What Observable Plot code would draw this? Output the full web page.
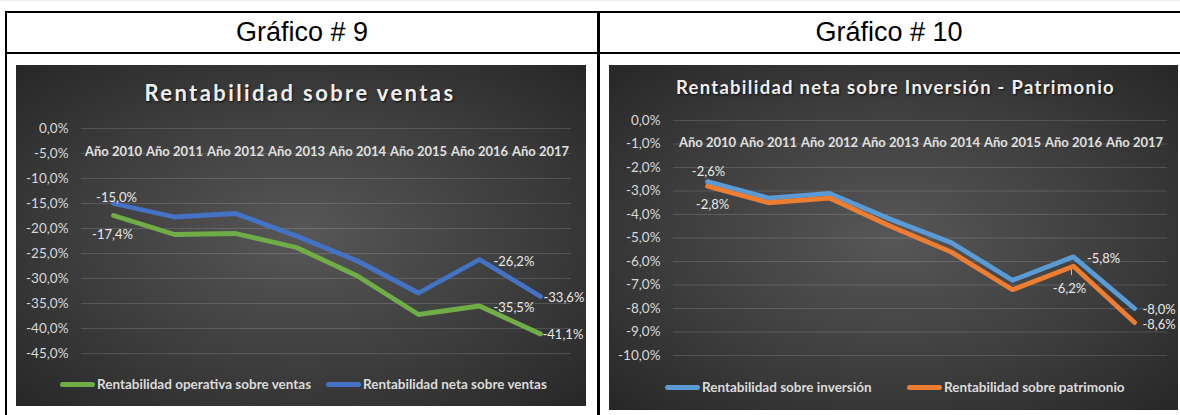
<!DOCTYPE html>
<html lang="es">
<head>
<meta charset="utf-8">
<script src="https://cdn.jsdelivr.net/npm/d3@7"></script>
<script src="https://cdn.jsdelivr.net/npm/@observablehq/plot@0.6"></script>
<style>
  html, body { margin:0; padding:0; background:#fff; }
  body { width:1180px; height:415px; position:relative; overflow:hidden; font-family: Lato, "Open Sans", sans-serif; }
  .ln { position:absolute; background:#000; }
  .hdr { position:absolute; top:13px; height:39px; display:flex; align-items:center; justify-content:center; font-family:"Liberation Sans", Arial, sans-serif; font-size:27px; color:#000; }
  .panel { position:absolute; overflow:hidden; background: radial-gradient(ellipse 72% 72% at 50% 50%, #575757 0%, #3d3d3d 55%, #262626 100%); }
  .panel svg { position:absolute; left:0; top:0; }
  .title { position:absolute; white-space:nowrap; font-weight:700; color:#efefef; text-shadow: 1px 1px 2px rgba(0,0,0,0.75); }
  .leg { position:absolute; display:flex; align-items:center; white-space:nowrap; font-weight:700; font-size:13.5px; color:#dcdcdc; transform: translateY(-50%); }
  .sw { display:inline-block; width:35px; height:5px; border-radius:2.5px; margin-right:2px; }
</style>
</head>
<body>
<div class="ln" style="left:0;top:0;width:1180px;height:1px;background:#ececec"></div>
<div class="ln" style="left:5px;top:11px;width:1175px;height:2px"></div>
<div class="ln" style="left:5px;top:52px;width:1175px;height:2px"></div>
<div class="ln" style="left:5px;top:11px;width:2px;height:404px"></div>
<div class="ln" style="left:597px;top:11px;width:3px;height:404px"></div>
<div class="hdr" id="h1" style="left:7px;width:590px"></div>
<div class="hdr" id="h2" style="left:600px;width:578px"></div>

<div class="panel" id="p1" style="left:16px;top:65px;width:570px;height:341px"></div>
<div class="panel" id="p2" style="left:609px;top:65px;width:569px;height:345px"></div>

<script>
// ---------- data ----------
const headers = ["Gráfico # 9", "Gráfico # 10"];
const titles = ["Rentabilidad sobre ventas", "Rentabilidad neta sobre Inversión - Patrimonio"];
const years = ["Año 2010", "Año 2011", "Año 2012", "Año 2013", "Año 2014", "Año 2015", "Año 2016", "Año 2017"];

const seriesNames1 = ["Rentabilidad operativa sobre ventas", "Rentabilidad neta sobre ventas"];
const operativaVentas = [-17.4, -21.2, -21.0, -23.8, -29.5, -37.2, -35.5, -41.1];
const netaVentas      = [-15.0, -17.7, -17.0, -21.5, -26.5, -32.9, -26.2, -33.6];
const ticks1 = [0, -5, -10, -15, -20, -25, -30, -35, -40, -45];

const seriesNames2 = ["Rentabilidad sobre inversión", "Rentabilidad sobre patrimonio"];
const inversion  = [-2.6, -3.3, -3.1, -4.2, -5.2, -6.8, -5.8, -8.0];
const patrimonio = [-2.8, -3.5, -3.3, -4.5, -5.6, -7.2, -6.2, -8.6];
const ticks2 = [0, -1, -2, -3, -4, -5, -6, -7, -8, -9, -10];

const colors1 = ["#70AD47", "#4472C4"];
const colors2 = ["#5B9BD5", "#ED7D31"];

// ---------- helpers ----------
const fmt = v => v.toFixed(1).replace(".", ",") + "%";
const rows = (vals, name) => vals.map((v, i) => ({year: years[i], v, name}));

document.getElementById("h1").textContent = headers[0];
document.getElementById("h2").textContent = headers[1];

function build(panelId, cfg) {
  const panel = document.getElementById(panelId);
  const data = cfg.series.map((vals, k) => rows(vals, cfg.names[k]));
  const labelMarks = cfg.labels.map(l => {
    const d = data[l.s][l.i];
    return Plot.text([d], {x: "year", y: "v", text: d => fmt(d.v), dx: l.dx, dy: l.dy,
      textAnchor: l.anchor, fill: "#e8e8e8", fontSize: 13});
  });
  const chart = Plot.plot({
    width: cfg.width, height: cfg.height,
    marginLeft: cfg.ml, marginRight: cfg.mr, marginTop: cfg.mt, marginBottom: cfg.mb,
    x: {type: "point", domain: years, padding: 0.5, align: 0.5, axis: null},
    y: {domain: cfg.domain},
    style: {background: "transparent", color: "#d9d9d9", fontFamily: "Lato, 'Open Sans', sans-serif", fontSize: "13px", overflow: "visible"},
    marks: [
      Plot.gridY(cfg.ticks, {stroke: "#ffffff", strokeOpacity: 0.14, strokeWidth: 1}),
      Plot.axisY(cfg.ticks, {tickSize: 0, tickPadding: cfg.tp, tickFormat: fmt, label: null, fill: "#d9d9d9", fontSize: 13.5}),
      Plot.text(years, {x: d => d, frameAnchor: "top", dy: cfg.catDy, text: d => d, fontWeight: "bold", fill: "#e0e0e0", fontSize: 13}),
      ...(cfg.extra || []),
      ...data.map((rs, k) => Plot.line(rs, {x: "year", y: "v", stroke: cfg.colors[k], strokeWidth: 4.8, strokeLinejoin: "round", strokeLinecap: "round"})),
      ...labelMarks
    ]
  });
  panel.appendChild(chart);

  const t = document.createElement("div");
  t.className = "title";
  t.textContent = cfg.title;
  t.style.fontSize = cfg.titleSize + "px";
  t.style.lineHeight = cfg.titleSize + "px";
  t.style.top = cfg.titleTop + "px";
  panel.appendChild(t);
  // spread letters to the reference width
  const w0 = t.getBoundingClientRect().width;
  const n = cfg.title.length;
  t.style.letterSpacing = Math.max(0, (cfg.titleWidth - w0) / n) + "px";
  const w1 = t.getBoundingClientRect().width;
  t.style.left = (cfg.titleCenter - w1 / 2) + "px";

  cfg.names.forEach((name, k) => {
    const it = document.createElement("div");
    it.className = "leg";
    it.style.left = cfg.legX[k] + "px";
    it.style.top = cfg.legY + "px";
    const sw = document.createElement("span");
    sw.className = "sw";
    sw.style.background = cfg.colors[k];
    const tx = document.createElement("span");
    tx.textContent = name;
    it.appendChild(sw); it.appendChild(tx);
    panel.appendChild(it);
  });
}

build("p1", {
  series: [operativaVentas, netaVentas], names: seriesNames1, colors: colors1,
  ticks: ticks1, domain: [-45, 0],
  width: 570, height: 341, ml: 65, mr: 15, mt: 63, mb: 53, tp: 13, catDy: 18,
  title: titles[0], titleSize: 22, titleTop: 17, titleWidth: 311, titleCenter: 284,
  legX: [44, 310], legY: 319,
  labels: [
    {s: 1, i: 0, dx: 3, dy: -6, anchor: "middle"},
    {s: 0, i: 0, dx: -1, dy: 19, anchor: "middle"},
    {s: 1, i: 6, dx: 14, dy: 2, anchor: "start"},
    {s: 0, i: 6, dx: 14, dy: 1.5, anchor: "start"},
    {s: 1, i: 7, dx: 3, dy: 1.5, anchor: "start"},
    {s: 0, i: 7, dx: 2, dy: 1, anchor: "start"}
  ]
});

build("p2", {
  series: [inversion, patrimonio], names: seriesNames2, colors: colors2,
  ticks: ticks2, domain: [-10, 0],
  width: 569, height: 345, ml: 64, mr: 11, mt: 55, mb: 55, tp: 13, catDy: 17.7,
  title: titles[1], titleSize: 18.5, titleTop: 13, titleWidth: 439, titleCenter: 286.5,
  legX: [56, 298], legY: 322,
  extra: [
    Plot.ruleX([{year: years[6], v: patrimonio[6]}], {x: "year", y1: d => d.v - 0.05, y2: d => d.v - 0.4, dx: -2, stroke: "#bfbfbf", strokeWidth: 1})
  ],
  labels: [
    {s: 0, i: 0, dx: 1, dy: -10, anchor: "middle"},
    {s: 1, i: 0, dx: 5, dy: 18.5, anchor: "middle"},
    {s: 0, i: 6, dx: 13.5, dy: 2, anchor: "start"},
    {s: 1, i: 6, dx: -4, dy: 23, anchor: "middle"},
    {s: 0, i: 7, dx: 8, dy: 1.5, anchor: "start"},
    {s: 1, i: 7, dx: 8, dy: 2, anchor: "start"}
  ]
});
</script>
</body>
</html>
